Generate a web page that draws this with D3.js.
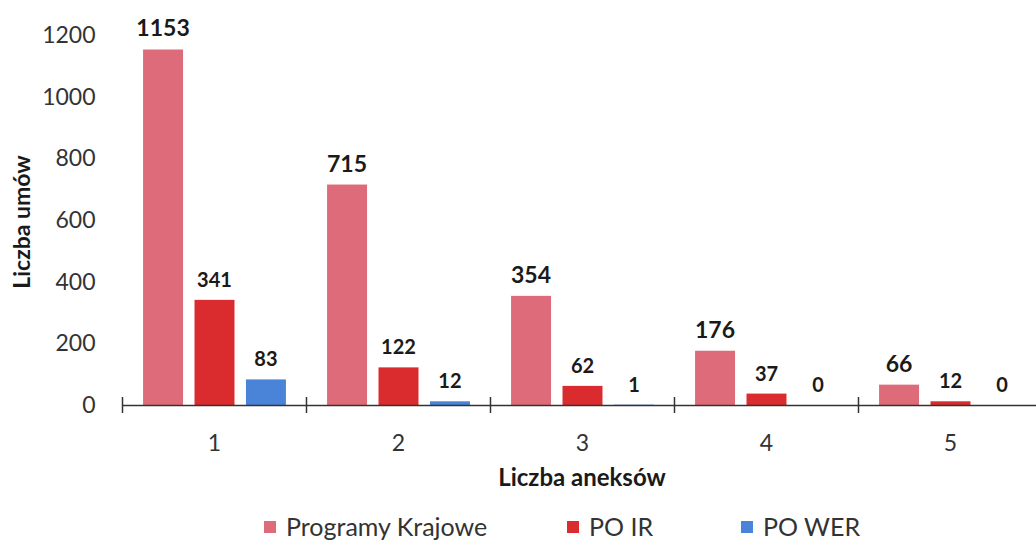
<!DOCTYPE html>
<html>
<head>
<meta charset="utf-8">
<script src="https://cdn.jsdelivr.net/npm/d3@7"></script>
<style>
  body { margin: 0; background: #fff; }
  svg { font-family: Lato, "Open Sans", sans-serif; display: block; }
</style>
</head>
<body>
<div id="vis"></div>
<script>
const FRAME_WIDTH = 1036;
const FRAME_HEIGHT = 541;

// data
const categories = ["1", "2", "3", "4", "5"];
const seriesNames = ["Programy Krajowe", "PO IR", "PO WER"];
const programyKrajowe = [1153, 715, 354, 176, 66];
const poIR = [341, 122, 62, 37, 12];
const poWER = [83, 12, 1, 0, 0];
const yTicks = [0, 200, 400, 600, 800, 1000, 1200];

const COLORS = ["#de6b79", "#da2b2e", "#4a84d8"];

const rows = categories.map((c, i) => ({
  cat: c,
  values: [programyKrajowe[i], poIR[i], poWER[i]]
}));

const FRAME = d3.select("#vis")
  .append("svg")
    .attr("width", FRAME_WIDTH)
    .attr("height", FRAME_HEIGHT);

const X_LEFT = 122.5;
const STEP = 184;
const Y_BASE = 405;
const Y_TOP = 35;

const X_SCALE = d3.scaleBand()
  .domain(categories)
  .range([X_LEFT, X_LEFT + STEP * categories.length])
  .padding(0);

const X_SUB = d3.scaleBand()
  .domain(seriesNames)
  .range([0, X_SCALE.bandwidth()])
  .paddingInner(0.223)
  .paddingOuter(0.4);

const Y_SCALE = d3.scaleLinear()
  .domain([0, 1200])
  .range([Y_BASE, Y_TOP]);

// bars
const groups = FRAME.selectAll(".grp")
  .data(rows)
  .enter()
  .append("g")
    .attr("class", "grp")
    .attr("transform", d => "translate(" + X_SCALE(d.cat) + ",0)");

groups.selectAll("rect")
  .data(d => d.values.map((v, j) => ({name: seriesNames[j], v: v, j: j})))
  .enter()
  .append("rect")
    .attr("x", d => X_SUB(d.name))
    .attr("y", d => Y_SCALE(d.v))
    .attr("width", X_SUB.bandwidth())
    .attr("height", d => Y_BASE - Y_SCALE(d.v))
    .attr("fill", d => COLORS[d.j]);

// value labels
groups.selectAll("text.val")
  .data(d => d.values.map((v, j) => ({name: seriesNames[j], v: v, j: j})))
  .enter()
  .append("text")
    .attr("class", "val")
    .attr("x", d => X_SUB(d.name) + X_SUB.bandwidth() / 2)
    .attr("y", d => Y_SCALE(d.v) - 13)
    .attr("text-anchor", "middle")
    .attr("font-weight", "bold")
    .attr("font-size", d => d.j === 0 ? "23px" : "20px")
    .attr("fill", "#1a1a1a")
    .text(d => d.v);

// y axis (labels only)
const yAxis = FRAME.append("g")
  .attr("transform", "translate(" + X_LEFT + ",0)")
  .call(d3.axisLeft(Y_SCALE).tickValues(yTicks).tickFormat(d3.format("d")).tickSize(0).tickPadding(27));
yAxis.select(".domain").remove();
yAxis.selectAll("text")
  .attr("font-size", "23px")
  .attr("font-family", "Lato, sans-serif")
  .attr("fill", "#333");

// x axis
const xAxis = FRAME.append("g")
  .attr("transform", "translate(0," + Y_BASE + ")")
  .call(d3.axisBottom(X_SCALE).tickSize(0).tickPadding(30));
xAxis.select(".domain")
  .attr("stroke", "#333")
  .attr("stroke-width", 1.5);
xAxis.selectAll("text")
  .attr("font-size", "23px")
  .attr("font-family", "Lato, sans-serif")
  .attr("fill", "#333");

// boundary tick marks
xAxis.selectAll("line.bound")
  .data(categories)
  .enter()
  .append("line")
    .attr("class", "bound")
    .attr("x1", d => X_SCALE(d))
    .attr("x2", d => X_SCALE(d))
    .attr("y1", -8)
    .attr("y2", 8)
    .attr("stroke", "#333")
    .attr("stroke-width", 1.5);

// axis titles
FRAME.append("text")
  .attr("transform", "translate(30,222) rotate(-90)")
  .attr("text-anchor", "middle")
  .attr("font-weight", "bold")
  .attr("font-size", "23px")
  .attr("fill", "#1a1a1a")
  .text("Liczba umów");

FRAME.append("text")
  .attr("x", 582)
  .attr("y", 486)
  .attr("text-anchor", "middle")
  .attr("font-weight", "bold")
  .attr("font-size", "24px")
  .attr("fill", "#1a1a1a")
  .text("Liczba aneksów");

// legend
const legendX = [264, 567, 741];
const legend = FRAME.selectAll(".leg")
  .data(seriesNames)
  .enter()
  .append("g")
    .attr("class", "leg")
    .attr("transform", (d, i) => "translate(" + legendX[i] + ",527)");

legend.append("rect")
  .attr("x", 0)
  .attr("y", -6)
  .attr("width", 12)
  .attr("height", 12)
  .attr("fill", (d, i) => COLORS[i]);

legend.append("text")
  .attr("x", 22)
  .attr("y", 9)
  .attr("font-size", "25px")
  .attr("fill", "#333")
  .text(d => d);
</script>
</body>
</html>
